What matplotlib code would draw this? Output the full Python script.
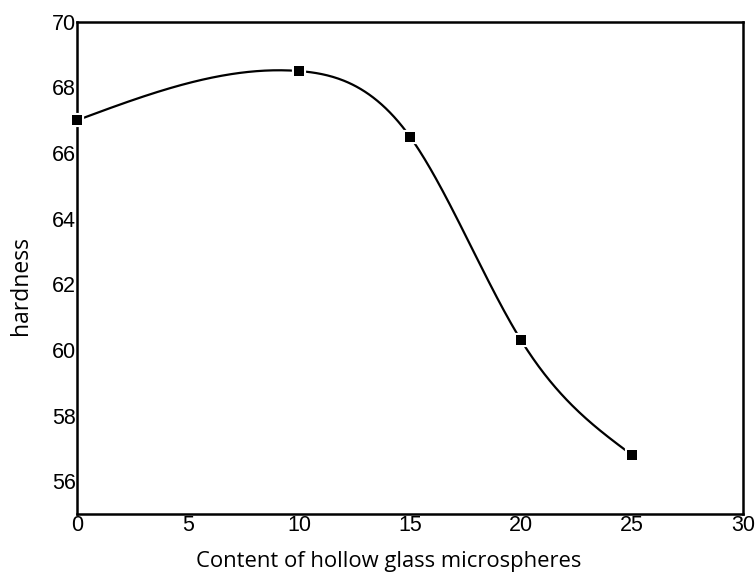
import numpy as np
import matplotlib
matplotlib.use("Agg")
from matplotlib import pyplot as plt

# data
content = [0, 10, 15, 20, 25]
hardness = [67.0, 68.5, 66.5, 60.3, 56.8]
xticks = [0, 5, 10, 15, 20, 25, 30]
yticks = [56, 58, 60, 62, 64, 66, 68, 70]


def natural_spline(x, y, xs):
    """Natural cubic spline, only used to draw the smooth connecting line."""
    x = np.asarray(x, dtype=float)
    y = np.asarray(y, dtype=float)
    n = len(x)
    h = np.diff(x)
    A = np.zeros((n, n))
    b = np.zeros(n)
    A[0, 0] = 1.0
    A[-1, -1] = 1.0
    for i in range(1, n - 1):
        A[i, i - 1] = h[i - 1]
        A[i, i] = 2.0 * (h[i - 1] + h[i])
        A[i, i + 1] = h[i]
        b[i] = 6.0 * ((y[i + 1] - y[i]) / h[i] - (y[i] - y[i - 1]) / h[i - 1])
    M = np.linalg.solve(A, b)
    ys = np.empty_like(xs)
    for k, xv in enumerate(xs):
        i = min(np.searchsorted(x, xv, side="right") - 1, n - 2)
        i = max(i, 0)
        t0 = x[i + 1] - xv
        t1 = xv - x[i]
        ys[k] = (M[i] * t0 ** 3 / (6 * h[i]) + M[i + 1] * t1 ** 3 / (6 * h[i])
                 + (y[i] / h[i] - M[i] * h[i] / 6) * t0
                 + (y[i + 1] / h[i] - M[i + 1] * h[i] / 6) * t1)
    return ys


fig = plt.figure(figsize=(7.55, 5.74), dpi=100)
ax = fig.add_axes([0.102, 0.1045, 0.882, 0.8575])

xs = np.linspace(content[0], content[-1], 400)
ax.plot(xs, natural_spline(content, hardness, xs), color="black", lw=1.6,
        zorder=2)
ax.plot(content, hardness, "s", color="black", ms=7, mec="white", mew=3,
        zorder=3, clip_on=False)
ax.plot(content, hardness, "s", color="black", ms=7, mew=0, zorder=4,
        clip_on=False)

ax.set_xlim(0, 30)
ax.set_ylim(55, 70)
ax.set_xticks(xticks)
ax.set_yticks(yticks)
ax.tick_params(length=0, pad=1, labelsize=15.5)
for lbl in ax.get_xticklabels() + ax.get_yticklabels():
    lbl.set_fontfamily("Liberation Sans")
for sp in ax.spines.values():
    sp.set_linewidth(1.8)

ax.set_xlabel("Content of hollow glass microspheres", fontsize=15.8,
              family="Open Sans")
ax.set_ylabel("hardness", fontsize=16.5, family="Open Sans")
# labels sit a little off-centre in the original
ax.xaxis.set_label_coords((389 - 77) / 666.0, -0.076, transform=ax.transAxes)
ax.xaxis.label.set_va("top")
ax.yaxis.set_label_coords(-0.066, (514 - 286) / 492.0, transform=ax.transAxes)

fig.savefig("out.png", dpi=100)
